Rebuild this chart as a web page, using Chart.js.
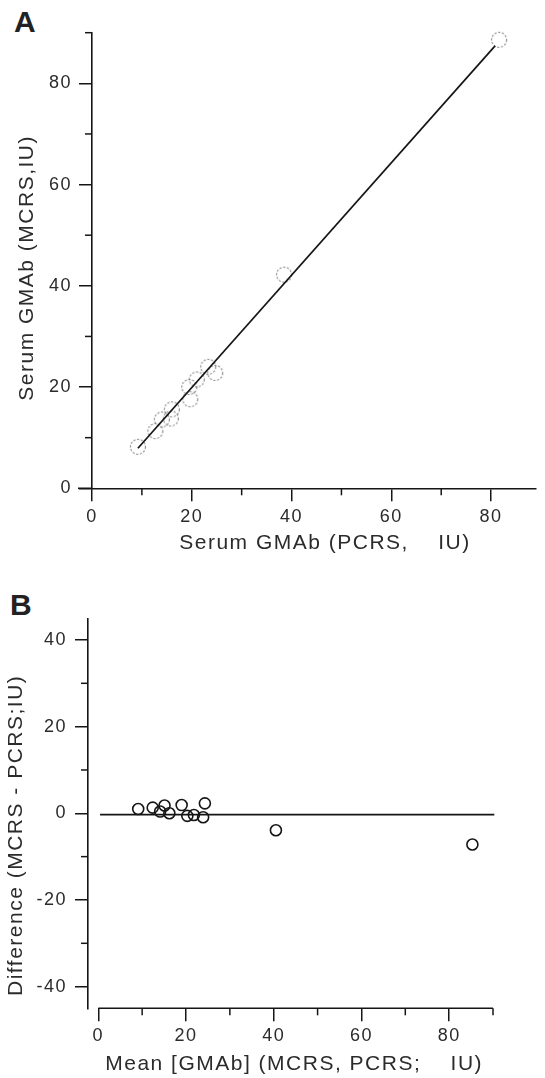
<!DOCTYPE html>
<html>
<head>
<meta charset="utf-8">
<script src="https://cdn.jsdelivr.net/npm/chart.js@4.4.1/dist/chart.umd.min.js"></script>
<style>
  body { margin: 0; background: #fff; width: 545px; height: 1078px; position: relative; overflow: hidden; }
  .panel { position: absolute; left: 0; width: 545px; }
  .tag { position: absolute; font: bold 30px "Liberation Sans", Arial, sans-serif; line-height: 1; color: #222; }
</style>
</head>
<body>
<div class="tag" style="left:14px; top:7px;">A</div>
<div class="tag" style="left:10px; top:590px;">B</div>
<div class="panel" style="top:0; height:560px;"><canvas id="chartA"></canvas></div>
<div class="panel" style="top:560px; height:518px;"><canvas id="chartB"></canvas></div>
<script>
// --- data ---
// panel A: serum GMAb by PCRS (x) and MCRS (y)
const pcrs = [9.2, 12.7, 14.0, 16.0, 15.8, 19.5, 19.7, 21.0, 23.3, 24.7, 38.5, 81.6];
const mcrs = [8.2, 11.3, 13.6, 15.6, 13.8, 20.0, 17.6, 21.5, 24.0, 22.8, 42.2, 88.6];
const fitX = [9.2, 80.8];
const fitY = [7.9, 87.4];
const aXTicks = [0, 10, 20, 30, 40, 50, 60, 70, 80];
const aYTicks = [0, 10, 20, 30, 40, 50, 60, 70, 80, 90];

// panel B: Bland-Altman, mean vs difference
const meanVals = [9.1, 12.4, 14.1, 15.1, 16.2, 19.0, 20.3, 21.8, 23.9, 24.3, 40.5, 85.3];
const diffVals = [1.0, 1.3, 0.4, 1.8, 0.0, 1.9, -0.6, -0.4, -0.9, 2.3, -3.9, -7.2];
const biasX = [0.4, 90.3];
const biasY = [-0.3, -0.3];
const bXTicks = [0, 10, 20, 30, 40, 50, 60, 70, 80, 90];
const bYTicks = [-40, -30, -20, -10, 0, 10, 20, 30, 40];

document.addEventListener('DOMContentLoaded', function () {
    const ink = '#151515';
    const textInk = '#2b2b2b';
    const family = '"Liberation Sans", Arial, sans-serif';

    function pairs(xs, ys) {
        return xs.map((x, i) => ({ x: x, y: ys[i] }));
    }

    // dashed grey ring used for the points in panel A
    function dashedRing() {
        const c = document.createElement('canvas');
        c.width = 20; c.height = 20;
        const g = c.getContext('2d');
        g.strokeStyle = '#8a8a8a';
        g.lineWidth = 1.1;
        g.setLineDash([2.2, 1.6]);
        g.beginPath();
        g.arc(10, 10, 7.5, 0, Math.PI * 2);
        g.stroke();
        return c;
    }

    // short minor ticks, plus optional axis line pieces
    const axisExtras = {
        id: 'axisExtras',
        beforeDraw(chart) {
            chart.ctx.letterSpacing = '1.5px';
        },
        afterDraw(chart, args, opts) {
            const ctx = chart.ctx;
            ctx.save();
            ctx.strokeStyle = ink;
            ctx.lineWidth = 1.5;
            ['x', 'y'].forEach(id => {
                const s = chart.scales[id];
                s.ticks.forEach(t => {
                    if (t.value % 20 === 0) return;
                    const p = s.getPixelForValue(t.value);
                    ctx.beginPath();
                    if (id === 'x') { ctx.moveTo(p, s.top); ctx.lineTo(p, s.top + opts.minorLen); }
                    else { ctx.moveTo(s.right, p); ctx.lineTo(s.right - opts.minorLen, p); }
                    ctx.stroke();
                });
            });
            const area = chart.chartArea;
            if (opts.extendLeft) {
                ctx.lineWidth = 1.6;
                ctx.beginPath();
                ctx.moveTo(area.left - opts.extendLeft, area.bottom);
                ctx.lineTo(area.left, area.bottom);
                ctx.stroke();
            }
            if (opts.xLine) {
                const sx = chart.scales.x;
                ctx.lineWidth = 1.6;
                ctx.beginPath();
                ctx.moveTo(sx.getPixelForValue(opts.xLine[0]), area.bottom);
                ctx.lineTo(sx.getPixelForValue(opts.xLine[1]), area.bottom);
                ctx.stroke();
            }
            ctx.restore();
        }
    };

    function axis(cfg) {
        return {
            type: 'linear',
            min: cfg.min,
            max: cfg.max,
            afterBuildTicks: s => { s.ticks = cfg.ticks.map(v => ({ value: v })); },
            afterFit: s => {
                if (cfg.width) s.width = cfg.width;
                if (cfg.height) s.height = cfg.height;
            },
            grid: {
                display: true,
                drawOnChartArea: false,
                drawTicks: true,
                tickLength: 13,
                lineWidth: 1.5,
                tickColor: c => (c.tick && c.tick.value % 20 === 0) ? ink : 'rgba(0,0,0,0)'
            },
            border: { display: cfg.border !== false, color: ink, width: 1.6 },
            ticks: {
                color: textInk,
                padding: cfg.tickPad,
                maxRotation: 0,
                autoSkip: false,
                font: { family: family, size: 18 },
                callback: v => (v % 20 === 0 ? String(v) : '')
            },
            title: {
                display: true,
                text: cfg.title,
                color: textInk,
                font: { family: family, size: 21 },
                padding: cfg.titlePad
            }
        };
    }

    // --- Panel A: method comparison ---
    new Chart(document.getElementById('chartA'), {
        type: 'scatter',
        data: {
            datasets: [{
                type: 'line',
                data: pairs(fitX, fitY),
                borderColor: ink,
                borderWidth: 1.7,
                pointRadius: 0,
                clip: false
            }, {
                data: pairs(pcrs, mcrs),
                pointStyle: dashedRing(),
                pointRadius: 8,
                clip: false
            }]
        },
        options: {
            responsive: true,
            maintainAspectRatio: false,
            animation: false,
            layout: { padding: { left: 4, top: 32.7, right: 0, bottom: 0 } },
            plugins: {
                legend: { display: false },
                tooltip: { enabled: false },
                axisExtras: { minorLen: 7, extendLeft: 14 }
            },
            scales: {
                x: axis({ min: 0, max: 89, ticks: aXTicks, height: 71.7, tickPad: 5,
                    title: '   Serum GMAb (PCRS,    IU)', titlePad: { top: 0, bottom: 4.4 } }),
                y: axis({ min: 0, max: 90, ticks: aYTicks, width: 88, tickPad: 7,
                    title: 'Serum GMAb (MCRS,IU)  ', titlePad: { top: 10.4, bottom: 0 } })
            }
        },
        plugins: [axisExtras]
    });

    // --- Panel B: difference against mean ---
    new Chart(document.getElementById('chartB'), {
        type: 'scatter',
        data: {
            datasets: [{
                type: 'line',
                data: pairs(biasX, biasY),
                borderColor: ink,
                borderWidth: 1.7,
                pointRadius: 0,
                clip: false
            }, {
                data: pairs(meanVals, diffVals),
                pointStyle: 'circle',
                pointRadius: 5.5,
                borderColor: ink,
                borderWidth: 1.6,
                backgroundColor: 'rgba(0,0,0,0)',
                clip: false
            }]
        },
        options: {
            responsive: true,
            maintainAspectRatio: false,
            animation: false,
            layout: { padding: { left: 0, top: 58.3, right: 52, bottom: 0 } },
            plugins: {
                legend: { display: false },
                tooltip: { enabled: false },
                axisExtras: { minorLen: 7, xLine: [0, 90] }
            },
            scales: {
                x: axis({ min: -2.35, max: 90, ticks: bXTicks, height: 69.7, tickPad: 4, border: false,
                    title: ' Mean [GMAb] (MCRS, PCRS;    IU)', titlePad: { top: 0, bottom: 1.4 } }),
                y: axis({ min: -45, max: 45, ticks: bYTicks, width: 88, tickPad: 8,
                    title: 'Difference (MCRS - PCRS;IU)      ', titlePad: { top: 3.4, bottom: 0 } })
            }
        },
        plugins: [axisExtras]
    });
});
</script>
</body>
</html>
